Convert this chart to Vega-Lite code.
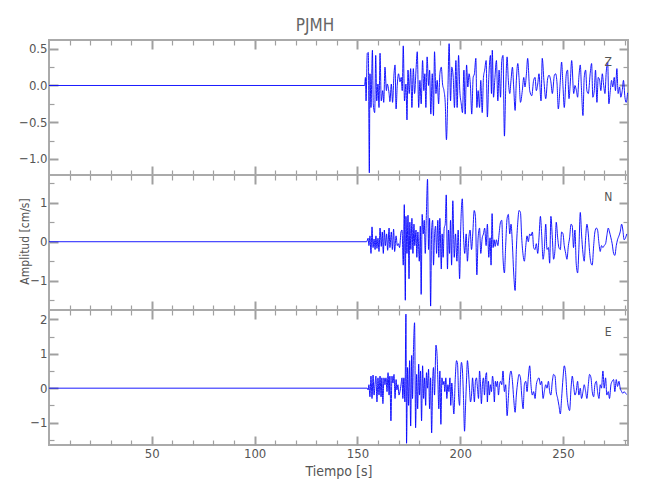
{
  "$schema": "https://vega.github.io/schema/vega-lite/v6.json",
  "padding": {"left": 0, "top": 17, "right": 5, "bottom": 5},
  "title": {"text": "PJMH", "fontSize": 17, "color": "#666", "fontWeight": "normal", "font": "Liberation Sans Narrow, DejaVu Sans Condensed, Liberation Sans, sans-serif", "anchor": "middle", "offset": 3},
  "config": {
    "view": {"stroke": "#aaaaaa", "strokeWidth": 2},
    "axis": {"domain": false, "grid": false, "tickColor": "#a0a0a0", "labelColor": "#555", "labelFont": "Liberation Sans Narrow, DejaVu Sans Condensed, Liberation Sans, sans-serif", "labelFontSize": 13, "titleFont": "Liberation Sans Narrow, DejaVu Sans Condensed, Liberation Sans, sans-serif", "titleFontSize": 14, "titleColor": "#555", "titleFontWeight": "normal"}
  },
  "datasets": {
    "Z": [
      {"t":0,"v":0},{"t":153.5,"v":0},{"t":153.9,"v":0.11},{"t":154.2,"v":-0.21},{"t":154.8,"v":0.44},{"t":155.3,"v":0.45},{"t":155.8,"v":-1.19},{"t":156.1,"v":0.16},{"t":156.6,"v":-0.30},{"t":157.3,"v":0.48},{"t":157.7,"v":-0.25},{"t":158.4,"v":-0.37},{"t":158.9,"v":0.41},{"t":159.4,"v":-0.21},{"t":160.0,"v":0.02},{"t":160.5,"v":-0.30},{"t":161.0,"v":0.44},{"t":161.6,"v":-0.21},{"t":162.3,"v":-0.07},{"t":162.8,"v":-0.23},{"t":163.4,"v":0.25},{"t":164.1,"v":-0.07},{"t":164.5,"v":0.02},{"t":165.4,"v":-0.11},{"t":165.8,"v":-0.22},{"t":166.5,"v":0.02},{"t":167.1,"v":-0.23},{"t":167.8,"v":0.16},{"t":168.3,"v":0.28},{"t":168.8,"v":-0.32},{"t":169.4,"v":0.02},{"t":170.0,"v":0.16},{"t":170.7,"v":0.05},{"t":171.3,"v":0.11},{"t":171.8,"v":-0.07},{"t":172.3,"v":0.54},{"t":172.9,"v":-0.21},{"t":173.6,"v":0.02},{"t":174.1,"v":-0.47},{"t":174.6,"v":0.21},{"t":175.2,"v":-0.11},{"t":175.9,"v":0.23},{"t":176.5,"v":-0.30},{"t":177.2,"v":0.23},{"t":177.8,"v":-0.11},{"t":178.5,"v":0.21},{"t":179.1,"v":0.46},{"t":179.8,"v":-0.30},{"t":180.4,"v":0.07},{"t":181.0,"v":-0.25},{"t":181.7,"v":0.34},{"t":182.3,"v":-0.07},{"t":182.8,"v":0.16},{"t":183.3,"v":-0.30},{"t":183.9,"v":0.39},{"t":184.6,"v":0.0},{"t":185.1,"v":0.21},{"t":185.7,"v":-0.39},{"t":186.4,"v":0.16},{"t":187.0,"v":-0.41},{"t":187.5,"v":0.46},{"t":188.2,"v":-0.11},{"t":188.8,"v":0.07},{"t":189.5,"v":-0.25},{"t":190.1,"v":0.16},{"t":190.8,"v":0.25},{"t":191.4,"v":0.02},{"t":192.1,"v":-0.07},{"t":192.7,"v":-0.23},{"t":193.3,"v":-0.74},{"t":194.0,"v":-0.07},{"t":194.6,"v":0.57},{"t":195.3,"v":-0.21},{"t":195.9,"v":0.25},{"t":196.6,"v":0.11},{"t":197.2,"v":-0.30},{"t":197.9,"v":0.34},{"t":198.5,"v":-0.30},{"t":199.2,"v":0.41},{"t":199.8,"v":-0.07},{"t":200.5,"v":-0.25},{"t":201.1,"v":-0.37},{"t":201.8,"v":0.21},{"t":202.4,"v":-0.39},{"t":203.1,"v":0.28},{"t":203.7,"v":-0.02},{"t":204.3,"v":0.16},{"t":205.0,"v":-0.02},{"t":205.6,"v":-0.39},{"t":206.3,"v":0.11},{"t":206.9,"v":0.16},{"t":207.6,"v":0.37},{"t":208.1,"v":-0.30},{"t":208.7,"v":-0.07},{"t":209.4,"v":-0.30},{"t":210.0,"v":0.07},{"t":210.7,"v":-0.37},{"t":211.3,"v":0.11},{"t":211.9,"v":0.21},{"t":212.6,"v":0.34},{"t":213.2,"v":-0.43},{"t":213.9,"v":0.11},{"t":214.7,"v":0.41},{"t":215.2,"v":-0.11},{"t":215.6,"v":0.48},{"t":216.2,"v":-0.16},{"t":216.8,"v":0.07},{"t":217.6,"v":0.34},{"t":218.3,"v":-0.21},{"t":218.9,"v":0.21},{"t":219.6,"v":-0.16},{"t":220.2,"v":0.34},{"t":220.8,"v":0.41},{"t":221.5,"v":-0.69},{"t":222.1,"v":-0.07},{"t":222.8,"v":0.39},{"t":223.4,"v":0.07},{"t":224.1,"v":-0.11},{"t":224.7,"v":0.07},{"t":225.4,"v":0.25},{"t":226.0,"v":-0.02},{"t":226.7,"v":-0.34},{"t":227.3,"v":0.07},{"t":228.0,"v":0.30},{"t":228.6,"v":0.11},{"t":229.3,"v":-0.23},{"t":230.2,"v":-0.07},{"t":230.9,"v":0.11},{"t":231.5,"v":-0.02},{"t":232.2,"v":0.16},{"t":232.8,"v":0.37},{"t":233.8,"v":-0.07},{"t":234.8,"v":-0.14},{"t":235.7,"v":0.07},{"t":236.4,"v":0.11},{"t":237.0,"v":-0.07},{"t":237.7,"v":0.02},{"t":238.3,"v":0.16},{"t":239.3,"v":-0.21},{"t":239.9,"v":0.37},{"t":240.7,"v":0.07},{"t":241.6,"v":-0.18},{"t":242.5,"v":0.09},{"t":243.2,"v":0.14},{"t":244.1,"v":0.05},{"t":244.8,"v":-0.11},{"t":245.8,"v":0.14},{"t":246.4,"v":0.16},{"t":247.1,"v":0.02},{"t":247.7,"v":-0.32},{"t":248.7,"v":0.07},{"t":249.3,"v":0.32},{"t":250.0,"v":-0.02},{"t":250.6,"v":-0.30},{"t":251.6,"v":0.16},{"t":252.2,"v":0.21},{"t":252.9,"v":-0.18},{"t":253.5,"v":0.02},{"t":254.2,"v":0.34},{"t":255.2,"v":-0.11},{"t":255.8,"v":0.0},{"t":256.5,"v":-0.07},{"t":257.1,"v":-0.16},{"t":257.7,"v":0.11},{"t":258.4,"v":0.28},{"t":259.0,"v":-0.07},{"t":259.7,"v":-0.41},{"t":260.3,"v":0.11},{"t":261.0,"v":0.21},{"t":261.6,"v":-0.07},{"t":262.3,"v":-0.11},{"t":263.2,"v":0.16},{"t":263.9,"v":0.30},{"t":264.5,"v":-0.16},{"t":265.2,"v":-0.07},{"t":265.8,"v":0.21},{"t":266.5,"v":-0.23},{"t":267.1,"v":0.11},{"t":267.8,"v":0.07},{"t":268.4,"v":-0.07},{"t":269.1,"v":0.16},{"t":269.7,"v":0.02},{"t":270.4,"v":-0.11},{"t":271.0,"v":0.18},{"t":271.7,"v":0.32},{"t":272.3,"v":-0.25},{"t":273.0,"v":-0.07},{"t":273.6,"v":0.07},{"t":274.2,"v":-0.02},{"t":274.9,"v":0.11},{"t":275.5,"v":-0.07},{"t":276.2,"v":0.23},{"t":276.8,"v":-0.11},{"t":277.5,"v":-0.02},{"t":278.1,"v":-0.16},{"t":278.8,"v":-0.07},{"t":279.4,"v":0.07},{"t":280.1,"v":-0.16},{"t":280.7,"v":-0.23},{"t":281.4,"v":-0.10}
    ],
    "N": [
      {"t":0,"v":0},{"t":154.5,"v":0},{"t":155.2,"v":0.09},{"t":155.6,"v":-0.10},{"t":156.1,"v":0.15},{"t":156.6,"v":-0.30},{"t":157.1,"v":0.38},{"t":157.6,"v":-0.15},{"t":158.1,"v":0.07},{"t":158.6,"v":-0.20},{"t":159.0,"v":0.15},{"t":159.5,"v":-0.17},{"t":160.0,"v":0.09},{"t":160.5,"v":-0.25},{"t":161.0,"v":0.35},{"t":161.6,"v":-0.12},{"t":162.1,"v":0.25},{"t":162.6,"v":-0.30},{"t":163.1,"v":0.30},{"t":163.6,"v":-0.10},{"t":164.2,"v":0.20},{"t":164.7,"v":-0.22},{"t":165.4,"v":0.35},{"t":165.8,"v":-0.15},{"t":166.5,"v":0.25},{"t":167.0,"v":-0.20},{"t":167.6,"v":0.32},{"t":168.1,"v":-0.25},{"t":168.8,"v":0.15},{"t":169.4,"v":-0.10},{"t":169.9,"v":-0.05},{"t":170.5,"v":-0.15},{"t":171.2,"v":0.25},{"t":171.7,"v":0.30},{"t":172.3,"v":-0.60},{"t":172.8,"v":0.95},{"t":173.3,"v":-1.50},{"t":173.6,"v":0.65},{"t":174.1,"v":-0.30},{"t":174.6,"v":0.68},{"t":175.1,"v":-0.95},{"t":175.5,"v":0.50},{"t":176.0,"v":-0.20},{"t":176.5,"v":0.60},{"t":177.0,"v":-0.30},{"t":177.5,"v":0.45},{"t":177.9,"v":-0.10},{"t":178.5,"v":0.30},{"t":178.9,"v":-0.40},{"t":179.4,"v":0.25},{"t":180.1,"v":-0.50},{"t":180.6,"v":0.40},{"t":181.0,"v":-1.35},{"t":181.5,"v":0.70},{"t":182.0,"v":0.20},{"t":182.5,"v":0.55},{"t":183.0,"v":-0.30},{"t":183.5,"v":0.60},{"t":184.1,"v":1.60},{"t":184.6,"v":-0.20},{"t":185.1,"v":0.60},{"t":185.6,"v":-1.65},{"t":186.1,"v":0.30},{"t":186.6,"v":0.55},{"t":187.0,"v":-0.60},{"t":187.5,"v":0.15},{"t":188.0,"v":0.40},{"t":188.5,"v":-0.30},{"t":189.1,"v":0.55},{"t":189.6,"v":-0.40},{"t":190.1,"v":0.60},{"t":190.8,"v":-0.70},{"t":191.2,"v":0.20},{"t":191.7,"v":-0.40},{"t":192.2,"v":0.35},{"t":192.7,"v":0.45},{"t":193.2,"v":1.20},{"t":193.8,"v":-0.70},{"t":194.3,"v":0.30},{"t":194.8,"v":-0.30},{"t":195.3,"v":0.55},{"t":195.8,"v":-0.60},{"t":196.4,"v":1.05},{"t":197.1,"v":-0.40},{"t":197.7,"v":0.20},{"t":198.4,"v":-0.50},{"t":199.0,"v":0.30},{"t":199.7,"v":-0.95},{"t":200.3,"v":0.45},{"t":201.0,"v":1.10},{"t":201.6,"v":0.15},{"t":202.2,"v":-0.30},{"t":202.9,"v":0.20},{"t":203.5,"v":-0.50},{"t":204.2,"v":0.10},{"t":204.8,"v":0.30},{"t":205.5,"v":-0.20},{"t":206.1,"v":0.20},{"t":206.8,"v":0.80},{"t":207.4,"v":0.65},{"t":208.1,"v":-0.85},{"t":208.7,"v":0.10},{"t":209.4,"v":0.35},{"t":210.0,"v":-0.30},{"t":210.7,"v":0.10},{"t":211.3,"v":0.20},{"t":211.9,"v":0.35},{"t":212.6,"v":-0.10},{"t":213.2,"v":0.45},{"t":213.9,"v":-0.40},{"t":214.5,"v":0.10},{"t":215.0,"v":-0.60},{"t":215.5,"v":0.72},{"t":216.0,"v":-0.15},{"t":216.5,"v":0.05},{"t":217.0,"v":-0.12},{"t":217.6,"v":0.05},{"t":218.3,"v":-0.10},{"t":218.9,"v":0.20},{"t":219.6,"v":0.50},{"t":220.2,"v":0.55},{"t":220.8,"v":-0.40},{"t":221.5,"v":-0.80},{"t":222.1,"v":-0.10},{"t":222.8,"v":0.60},{"t":223.4,"v":0.70},{"t":224.1,"v":0.20},{"t":224.7,"v":0.45},{"t":225.4,"v":-0.10},{"t":226.0,"v":-0.80},{"t":226.7,"v":-1.25},{"t":227.3,"v":-0.20},{"t":228.0,"v":0.50},{"t":228.6,"v":0.80},{"t":229.3,"v":0.75},{"t":229.9,"v":0.10},{"t":230.6,"v":-0.35},{"t":231.2,"v":-0.50},{"t":231.9,"v":-0.10},{"t":232.5,"v":0.15},{"t":233.1,"v":0.00},{"t":233.8,"v":0.20},{"t":234.4,"v":0.15},{"t":235.1,"v":0.25},{"t":235.7,"v":-0.15},{"t":236.4,"v":-0.20},{"t":237.0,"v":-0.05},{"t":237.7,"v":-0.30},{"t":238.3,"v":0.10},{"t":239.0,"v":0.65},{"t":239.6,"v":0.20},{"t":240.3,"v":-0.45},{"t":240.9,"v":-0.20},{"t":241.6,"v":0.45},{"t":242.2,"v":-0.20},{"t":242.9,"v":-0.15},{"t":243.5,"v":-0.55},{"t":244.1,"v":0.65},{"t":244.8,"v":0.10},{"t":245.4,"v":-0.45},{"t":246.1,"v":-0.20},{"t":246.7,"v":0.50},{"t":247.4,"v":0.10},{"t":248.0,"v":-0.15},{"t":248.7,"v":-0.20},{"t":249.3,"v":0.25},{"t":250.0,"v":0.20},{"t":250.6,"v":-0.10},{"t":251.3,"v":-0.30},{"t":251.9,"v":-0.45},{"t":252.6,"v":-0.10},{"t":253.2,"v":0.10},{"t":253.9,"v":0.45},{"t":254.5,"v":0.40},{"t":255.1,"v":-0.15},{"t":255.8,"v":0.30},{"t":256.4,"v":-0.55},{"t":257.1,"v":-0.80},{"t":257.7,"v":-0.20},{"t":258.4,"v":0.75},{"t":259.0,"v":0.20},{"t":259.7,"v":-0.30},{"t":260.3,"v":-0.50},{"t":261.0,"v":0.10},{"t":261.6,"v":0.45},{"t":262.3,"v":0.20},{"t":262.9,"v":-0.25},{"t":263.6,"v":-0.55},{"t":264.2,"v":-0.60},{"t":264.9,"v":-0.10},{"t":265.5,"v":0.25},{"t":266.2,"v":0.35},{"t":266.8,"v":0.30},{"t":267.4,"v":0.00},{"t":268.1,"v":-0.25},{"t":268.7,"v":-0.10},{"t":269.4,"v":-0.15},{"t":270.0,"v":-0.10},{"t":270.7,"v":-0.05},{"t":271.3,"v":0.15},{"t":272.0,"v":0.35},{"t":272.6,"v":0.25},{"t":273.3,"v":0.10},{"t":273.9,"v":-0.05},{"t":274.6,"v":-0.30},{"t":275.2,"v":-0.35},{"t":275.9,"v":-0.10},{"t":276.5,"v":0.05},{"t":277.2,"v":0.15},{"t":277.8,"v":0.25},{"t":278.5,"v":0.45},{"t":279.1,"v":0.30},{"t":279.7,"v":0.05},{"t":280.4,"v":0.10},{"t":281.0,"v":0.20}
    ],
    "E": [
      {"t":0,"v":0},{"t":154.8,"v":0},{"t":155.2,"v":-0.05},{"t":155.6,"v":0.10},{"t":156.1,"v":-0.25},{"t":156.6,"v":0.35},{"t":157.1,"v":-0.30},{"t":157.6,"v":0.38},{"t":158.1,"v":-0.20},{"t":158.6,"v":0.15},{"t":159.0,"v":0.35},{"t":159.5,"v":-0.40},{"t":160.0,"v":0.30},{"t":160.5,"v":-0.20},{"t":161.0,"v":0.35},{"t":161.5,"v":-0.25},{"t":161.9,"v":0.30},{"t":162.4,"v":-0.45},{"t":162.9,"v":0.30},{"t":163.4,"v":0.10},{"t":163.9,"v":0.30},{"t":164.4,"v":-0.10},{"t":164.9,"v":0.45},{"t":165.4,"v":-0.20},{"t":165.8,"v":0.35},{"t":166.3,"v":-0.95},{"t":166.8,"v":0.35},{"t":167.3,"v":0.15},{"t":167.8,"v":0.40},{"t":168.3,"v":-0.30},{"t":168.8,"v":0.25},{"t":169.2,"v":-0.05},{"t":169.7,"v":0.10},{"t":170.2,"v":-0.20},{"t":170.7,"v":-0.10},{"t":171.2,"v":0.10},{"t":171.7,"v":0.30},{"t":172.1,"v":-0.30},{"t":172.6,"v":0.30},{"t":173.1,"v":-0.40},{"t":173.6,"v":2.15},{"t":173.9,"v":-1.60},{"t":174.4,"v":0.60},{"t":174.9,"v":-0.50},{"t":175.4,"v":0.80},{"t":175.9,"v":-1.10},{"t":176.4,"v":0.95},{"t":176.8,"v":-0.30},{"t":177.3,"v":1.20},{"t":177.8,"v":1.90},{"t":178.3,"v":-1.15},{"t":178.8,"v":0.40},{"t":179.3,"v":-0.60},{"t":179.8,"v":0.70},{"t":180.2,"v":-0.20},{"t":180.7,"v":0.50},{"t":181.2,"v":-0.95},{"t":181.7,"v":0.65},{"t":182.2,"v":-0.30},{"t":182.7,"v":0.30},{"t":183.2,"v":-0.50},{"t":183.6,"v":0.45},{"t":184.1,"v":0.00},{"t":184.6,"v":0.55},{"t":185.1,"v":-0.60},{"t":185.6,"v":0.30},{"t":186.1,"v":-1.30},{"t":186.6,"v":0.20},{"t":187.0,"v":0.60},{"t":187.5,"v":-0.20},{"t":188.2,"v":1.25},{"t":188.7,"v":1.00},{"t":189.1,"v":0.30},{"t":189.6,"v":-0.60},{"t":190.1,"v":0.50},{"t":190.6,"v":-1.05},{"t":191.1,"v":0.30},{"t":191.6,"v":0.10},{"t":192.1,"v":0.20},{"t":192.5,"v":-0.10},{"t":193.0,"v":0.30},{"t":193.5,"v":-0.30},{"t":194.0,"v":0.10},{"t":194.5,"v":-0.10},{"t":195.0,"v":0.30},{"t":195.4,"v":-0.50},{"t":195.9,"v":0.15},{"t":196.4,"v":-0.30},{"t":196.9,"v":-0.75},{"t":197.6,"v":0.30},{"t":198.2,"v":0.80},{"t":198.7,"v":0.70},{"t":199.2,"v":-0.20},{"t":199.7,"v":-0.50},{"t":200.1,"v":0.30},{"t":200.6,"v":0.75},{"t":201.1,"v":0.50},{"t":201.6,"v":-0.30},{"t":202.1,"v":-1.25},{"t":202.6,"v":-0.50},{"t":203.1,"v":0.30},{"t":203.5,"v":0.80},{"t":204.0,"v":0.50},{"t":204.5,"v":0.00},{"t":205.0,"v":-0.40},{"t":205.5,"v":-0.20},{"t":206.0,"v":0.30},{"t":206.4,"v":0.00},{"t":206.9,"v":-0.40},{"t":207.4,"v":0.20},{"t":207.9,"v":0.30},{"t":208.4,"v":0.00},{"t":208.9,"v":-0.30},{"t":209.4,"v":0.50},{"t":209.8,"v":0.20},{"t":210.3,"v":-0.45},{"t":210.8,"v":0.10},{"t":211.3,"v":0.30},{"t":211.8,"v":-0.20},{"t":212.3,"v":0.30},{"t":212.8,"v":0.45},{"t":213.2,"v":-0.40},{"t":213.7,"v":0.20},{"t":214.2,"v":-0.20},{"t":214.7,"v":0.10},{"t":215.2,"v":-0.10},{"t":215.7,"v":0.35},{"t":216.2,"v":0.10},{"t":216.6,"v":-0.40},{"t":217.1,"v":0.20},{"t":217.6,"v":0.05},{"t":218.1,"v":0.20},{"t":218.6,"v":-0.20},{"t":219.1,"v":0.10},{"t":219.6,"v":0.20},{"t":220.2,"v":0.10},{"t":220.8,"v":0.50},{"t":221.5,"v":-0.10},{"t":222.1,"v":0.10},{"t":222.8,"v":-0.80},{"t":223.4,"v":-0.30},{"t":224.1,"v":0.35},{"t":224.7,"v":0.50},{"t":225.4,"v":0.20},{"t":226.0,"v":-0.30},{"t":226.7,"v":-0.70},{"t":227.3,"v":-0.20},{"t":228.0,"v":0.20},{"t":228.6,"v":0.40},{"t":229.3,"v":0.30},{"t":229.9,"v":-0.20},{"t":230.6,"v":-0.60},{"t":231.2,"v":0.10},{"t":231.9,"v":0.20},{"t":232.5,"v":-0.10},{"t":233.1,"v":0.30},{"t":233.8,"v":0.65},{"t":234.4,"v":0.10},{"t":235.1,"v":-0.20},{"t":235.7,"v":-0.10},{"t":236.4,"v":-0.30},{"t":237.0,"v":0.10},{"t":237.7,"v":0.25},{"t":238.3,"v":0.30},{"t":239.0,"v":0.10},{"t":239.6,"v":0.20},{"t":240.3,"v":-0.30},{"t":240.9,"v":-0.10},{"t":241.6,"v":0.10},{"t":242.2,"v":0.00},{"t":242.9,"v":0.20},{"t":243.5,"v":-0.10},{"t":244.1,"v":-0.20},{"t":244.8,"v":0.20},{"t":245.4,"v":0.40},{"t":246.1,"v":0.35},{"t":246.7,"v":-0.10},{"t":247.4,"v":-0.30},{"t":248.0,"v":-0.50},{"t":248.7,"v":-0.75},{"t":249.3,"v":-0.30},{"t":250.0,"v":0.30},{"t":250.6,"v":0.65},{"t":251.3,"v":0.40},{"t":251.9,"v":-0.20},{"t":252.6,"v":-0.55},{"t":253.2,"v":-0.65},{"t":253.9,"v":0.00},{"t":254.5,"v":0.35},{"t":255.1,"v":0.10},{"t":255.8,"v":-0.20},{"t":256.4,"v":-0.10},{"t":257.1,"v":0.20},{"t":257.7,"v":-0.20},{"t":258.4,"v":0.00},{"t":259.0,"v":-0.30},{"t":259.7,"v":-0.10},{"t":260.3,"v":0.10},{"t":261.0,"v":-0.10},{"t":261.6,"v":-0.30},{"t":262.3,"v":0.10},{"t":262.9,"v":0.40},{"t":263.6,"v":0.30},{"t":264.2,"v":-0.10},{"t":264.9,"v":-0.25},{"t":265.5,"v":0.10},{"t":266.2,"v":0.20},{"t":266.8,"v":-0.10},{"t":267.5,"v":-0.30},{"t":268.1,"v":0.10},{"t":268.7,"v":0.00},{"t":269.4,"v":0.50},{"t":270.0,"v":0.00},{"t":270.7,"v":0.30},{"t":271.3,"v":-0.20},{"t":272.0,"v":-0.10},{"t":272.6,"v":-0.30},{"t":273.3,"v":0.10},{"t":273.9,"v":0.20},{"t":274.6,"v":0.25},{"t":275.2,"v":-0.10},{"t":275.9,"v":0.25},{"t":276.5,"v":0.05},{"t":277.2,"v":0.20},{"t":277.8,"v":0.00},{"t":278.5,"v":-0.10},{"t":279.1,"v":-0.15},{"t":279.7,"v":-0.10},{"t":280.4,"v":-0.15},{"t":281.0,"v":-0.18}
    ]
  },
  "vconcat": [
    {
      "width": 579, "height": 135,
      "data": {"name": "Z"},
      "layer": [
        {"mark": {"type": "line", "color": "#0000ff", "strokeWidth": 0.9, "clip": true, "interpolate": "monotone"},
         "encoding": {
           "x": {"field": "t", "type": "quantitative", "scale": {"domain": [0, 281.6], "nice": false, "zero": false}, "axis": {"orient": "bottom", "values": [50,100,150,200,250], "tickSize": -9, "tickWidth": 2, "labels": false, "title": null}},
           "y": {"field": "v", "type": "quantitative", "scale": {"domain": [-1.22, 0.62], "nice": false, "zero": false}, "axis": {"orient": "left", "values": [-1, -0.5, 0, 0.5], "format": ".1f", "tickSize": -9, "tickWidth": 2, "labelPadding": 11, "title": null, "minExtent": 48, "maxExtent": 48}}
         }},
        {"mark": {"type": "line", "opacity": 0},
         "encoding": {
           "x": {"field": "t", "type": "quantitative", "axis": {"orient": "top", "values": [50,100,150,200,250], "tickSize": -9, "tickWidth": 2, "labels": false, "title": null}},
           "y": {"field": "v", "type": "quantitative", "axis": {"orient": "right", "values": [-1, -0.5, 0, 0.5], "tickSize": -9, "tickWidth": 2, "labels": false, "title": null}}
         }},
        {"mark": {"type": "line", "opacity": 0},
         "encoding": {
           "x": {"field": "t", "type": "quantitative", "axis": {"orient": "bottom", "values": [10,20,30,40,60,70,80,90,110,120,130,140,160,170,180,190,210,220,230,240,260,270,280], "tickSize": -5, "tickWidth": 1.2, "labels": false, "title": null}},
           "y": {"field": "v", "type": "quantitative", "axis": {"orient": "left", "values": [-0.75, -0.25, 0.25], "tickSize": -5, "tickWidth": 1.2, "labels": false, "title": null}}
         }},
        {"mark": {"type": "line", "opacity": 0},
         "encoding": {
           "x": {"field": "t", "type": "quantitative", "axis": {"orient": "top", "values": [10,20,30,40,60,70,80,90,110,120,130,140,160,170,180,190,210,220,230,240,260,270,280], "tickSize": -5, "tickWidth": 1.2, "labels": false, "title": null}},
           "y": {"field": "v", "type": "quantitative", "axis": {"orient": "right", "values": [-0.75, -0.25, 0.25], "tickSize": -5, "tickWidth": 1.2, "labels": false, "title": null}}
         }},
        {"data": {"values": [{"label": "Z"}]},
         "mark": {"type": "text", "fontSize": 12, "color": "#555", "font": "Liberation Sans Narrow, DejaVu Sans Condensed, Liberation Sans, sans-serif"},
         "encoding": {"x": {"datum": 272, "type": "quantitative", "axis": null}, "y": {"datum": 0.32, "type": "quantitative", "axis": null}, "text": {"field": "label"}}}
      ],
      "resolve": {"axis": {"x": "independent", "y": "independent"}}
    },
    {
      "width": 579, "height": 135,
      "data": {"name": "N"},
      "layer": [
        {"mark": {"type": "line", "color": "#0000ff", "strokeWidth": 0.9, "clip": true, "interpolate": "monotone"},
         "encoding": {
           "x": {"field": "t", "type": "quantitative", "scale": {"domain": [0, 281.6], "nice": false, "zero": false}, "axis": {"orient": "bottom", "values": [50,100,150,200,250], "tickSize": -9, "tickWidth": 2, "labels": false, "title": null}},
           "y": {"field": "v", "type": "quantitative", "scale": {"domain": [-1.75, 1.71], "nice": false, "zero": false}, "axis": {"orient": "left", "values": [-1, 0, 1], "format": "d", "tickSize": -9, "tickWidth": 2, "labelPadding": 11, "title": "Amplitud [cm/s]", "titleFontSize": 12, "titleAngle": -90, "titleX": -25, "titleY": 66, "titleAlign": "center", "titleBaseline": "middle", "minExtent": 48, "maxExtent": 48}}
         }},
        {"mark": {"type": "line", "opacity": 0},
         "encoding": {
           "x": {"field": "t", "type": "quantitative", "axis": {"orient": "top", "values": [50,100,150,200,250], "tickSize": -9, "tickWidth": 2, "labels": false, "title": null}},
           "y": {"field": "v", "type": "quantitative", "axis": {"orient": "right", "values": [-1, 0, 1], "tickSize": -9, "tickWidth": 2, "labels": false, "title": null}}
         }},
        {"mark": {"type": "line", "opacity": 0},
         "encoding": {
           "x": {"field": "t", "type": "quantitative", "axis": {"orient": "bottom", "values": [10,20,30,40,60,70,80,90,110,120,130,140,160,170,180,190,210,220,230,240,260,270,280], "tickSize": -5, "tickWidth": 1.2, "labels": false, "title": null}},
           "y": {"field": "v", "type": "quantitative", "axis": {"orient": "left", "values": [-1.5, -0.5, 0.5, 1.5], "tickSize": -5, "tickWidth": 1.2, "labels": false, "title": null}}
         }},
        {"mark": {"type": "line", "opacity": 0},
         "encoding": {
           "x": {"field": "t", "type": "quantitative", "axis": {"orient": "top", "values": [10,20,30,40,60,70,80,90,110,120,130,140,160,170,180,190,210,220,230,240,260,270,280], "tickSize": -5, "tickWidth": 1.2, "labels": false, "title": null}},
           "y": {"field": "v", "type": "quantitative", "axis": {"orient": "right", "values": [-1.5, -0.5, 0.5, 1.5], "tickSize": -5, "tickWidth": 1.2, "labels": false, "title": null}}
         }},
        {"data": {"values": [{"label": "N"}]},
         "mark": {"type": "text", "fontSize": 12, "color": "#555", "font": "Liberation Sans Narrow, DejaVu Sans Condensed, Liberation Sans, sans-serif"},
         "encoding": {"x": {"datum": 272, "type": "quantitative", "axis": null}, "y": {"datum": 1.15, "type": "quantitative", "axis": null}, "text": {"field": "label"}}}
      ],
      "resolve": {"axis": {"x": "independent", "y": "independent"}}
    },
    {
      "width": 579, "height": 135,
      "data": {"name": "E"},
      "layer": [
        {"mark": {"type": "line", "color": "#0000ff", "strokeWidth": 0.9, "clip": true, "interpolate": "monotone"},
         "encoding": {
           "x": {"field": "t", "type": "quantitative", "scale": {"domain": [0, 281.6], "nice": false, "zero": false}, "axis": {"orient": "bottom", "values": [50,100,150,200,250], "format": "d", "tickSize": -9, "tickWidth": 2, "labelPadding": 11, "title": "Tiempo [s]", "titlePadding": 4}},
           "y": {"field": "v", "type": "quantitative", "scale": {"domain": [-1.65, 2.27], "nice": false, "zero": false}, "axis": {"orient": "left", "values": [-1, 0, 1, 2], "format": "d", "tickSize": -9, "tickWidth": 2, "labelPadding": 11, "title": null, "minExtent": 48, "maxExtent": 48}}
         }},
        {"mark": {"type": "line", "opacity": 0},
         "encoding": {
           "x": {"field": "t", "type": "quantitative", "axis": {"orient": "top", "values": [50,100,150,200,250], "tickSize": -9, "tickWidth": 2, "labels": false, "title": null}},
           "y": {"field": "v", "type": "quantitative", "axis": {"orient": "right", "values": [-1, 0, 1, 2], "tickSize": -9, "tickWidth": 2, "labels": false, "title": null}}
         }},
        {"mark": {"type": "line", "opacity": 0},
         "encoding": {
           "x": {"field": "t", "type": "quantitative", "axis": {"orient": "bottom", "values": [10,20,30,40,60,70,80,90,110,120,130,140,160,170,180,190,210,220,230,240,260,270,280], "tickSize": -5, "tickWidth": 1.2, "labels": false, "title": null}},
           "y": {"field": "v", "type": "quantitative", "axis": {"orient": "left", "values": [-1.5, -0.5, 0.5, 1.5], "tickSize": -5, "tickWidth": 1.2, "labels": false, "title": null}}
         }},
        {"mark": {"type": "line", "opacity": 0},
         "encoding": {
           "x": {"field": "t", "type": "quantitative", "axis": {"orient": "top", "values": [10,20,30,40,60,70,80,90,110,120,130,140,160,170,180,190,210,220,230,240,260,270,280], "tickSize": -5, "tickWidth": 1.2, "labels": false, "title": null}},
           "y": {"field": "v", "type": "quantitative", "axis": {"orient": "right", "values": [-1.5, -0.5, 0.5, 1.5], "tickSize": -5, "tickWidth": 1.2, "labels": false, "title": null}}
         }},
        {"data": {"values": [{"label": "E"}]},
         "mark": {"type": "text", "fontSize": 12, "color": "#555", "font": "Liberation Sans Narrow, DejaVu Sans Condensed, Liberation Sans, sans-serif"},
         "encoding": {"x": {"datum": 272, "type": "quantitative", "axis": null}, "y": {"datum": 1.63, "type": "quantitative", "axis": null}, "text": {"field": "label"}}}
      ],
      "resolve": {"axis": {"x": "independent", "y": "independent"}}
    }
  ],
  "spacing": 0,
  "bounds": "flush"
}
